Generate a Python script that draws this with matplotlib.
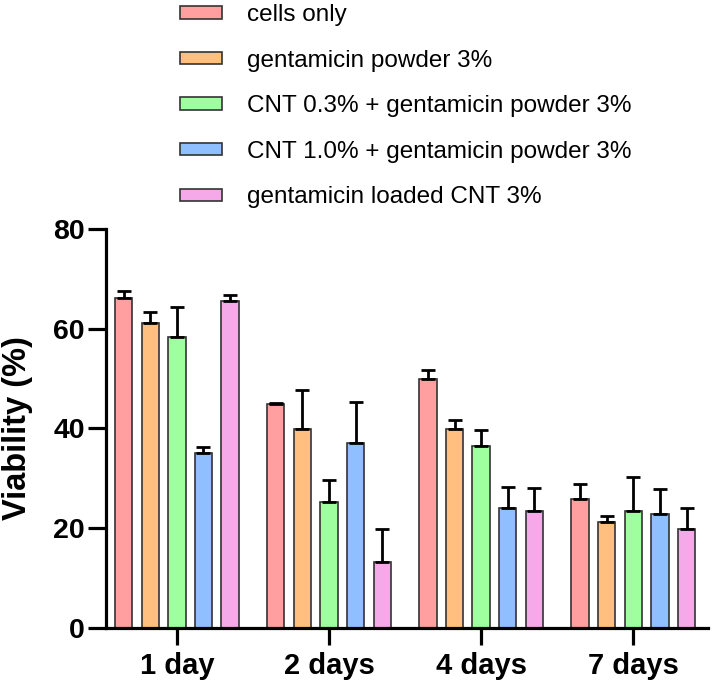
import matplotlib.pyplot as plt
import numpy as np

plt.rcParams['font.family'] = ['Liberation Sans', 'DejaVu Sans']

days = ["1 day", "2 days", "4 days", "7 days"]
groups = ["cells only", "gentamicin powder 3%", "CNT 0.3% + gentamicin powder 3%",
          "CNT 1.0% + gentamicin powder 3%", "gentamicin loaded CNT 3%"]
colors = ["#ff9f9f", "#ffc07f", "#9fff9f", "#90bfff", "#f5a9e9"]

# mean viability per group, one value per day
means = [
    [66.2, 44.8, 49.8, 25.9],
    [61.1, 39.9, 39.9, 21.3],
    [58.4, 25.2, 36.5, 23.4],
    [35.0, 37.1, 24.1, 22.8],
    [65.6, 13.2, 23.4, 19.8],
]
errors = [
    [1.4, 0.3, 1.9, 3.0],
    [2.2, 7.8, 1.8, 1.1],
    [5.9, 4.5, 3.2, 6.8],
    [1.3, 8.1, 4.2, 5.1],
    [1.1, 6.7, 4.7, 4.2],
]

fig = plt.figure(figsize=(7.15, 6.89), dpi=100)
ax = fig.add_axes([0.148, 0.0885, 0.842, 0.5795])

x = np.arange(len(days))
step = 0.175
width = 0.114
for i in range(len(groups)):
    ax.bar(x + (i - 2) * step, means[i], width=width, color=colors[i],
           edgecolor="#333333", linewidth=1.2, label=groups[i], zorder=2,
           yerr=[np.zeros(len(days)), errors[i]],
           error_kw=dict(ecolor="black", elinewidth=2, capsize=5, capthick=2))

ax.set_xlim(-0.467, 3.49)
ax.set_ylim(0, 80)
ax.set_yticks([0, 20, 40, 60, 80])
ax.set_xticks(x)
ax.set_xticklabels(days)
ax.set_ylabel("Viability (%)", fontsize=23.5, fontweight="bold")
ax.yaxis.set_label_coords(-0.121, 0.5)

for s in ["top", "right"]:
    ax.spines[s].set_visible(False)
for s in ["left", "bottom"]:
    ax.spines[s].set_linewidth(2.3)
ax.tick_params(axis="y", length=13, width=2.3, labelsize=20.5, pad=2)
ax.tick_params(axis="x", length=12, width=2.3, labelsize=21, pad=5)
for lab in ax.get_xticklabels() + ax.get_yticklabels():
    lab.set_fontweight("bold")

fig.legend(loc="upper left", bbox_to_anchor=(0.252, 0.994), frameon=False,
           fontsize=17.5, handlelength=1.73, handleheight=0.41, labelspacing=0.97,
           handletextpad=1.03, borderpad=0, borderaxespad=0)

fig.savefig("out.png", dpi=100)
